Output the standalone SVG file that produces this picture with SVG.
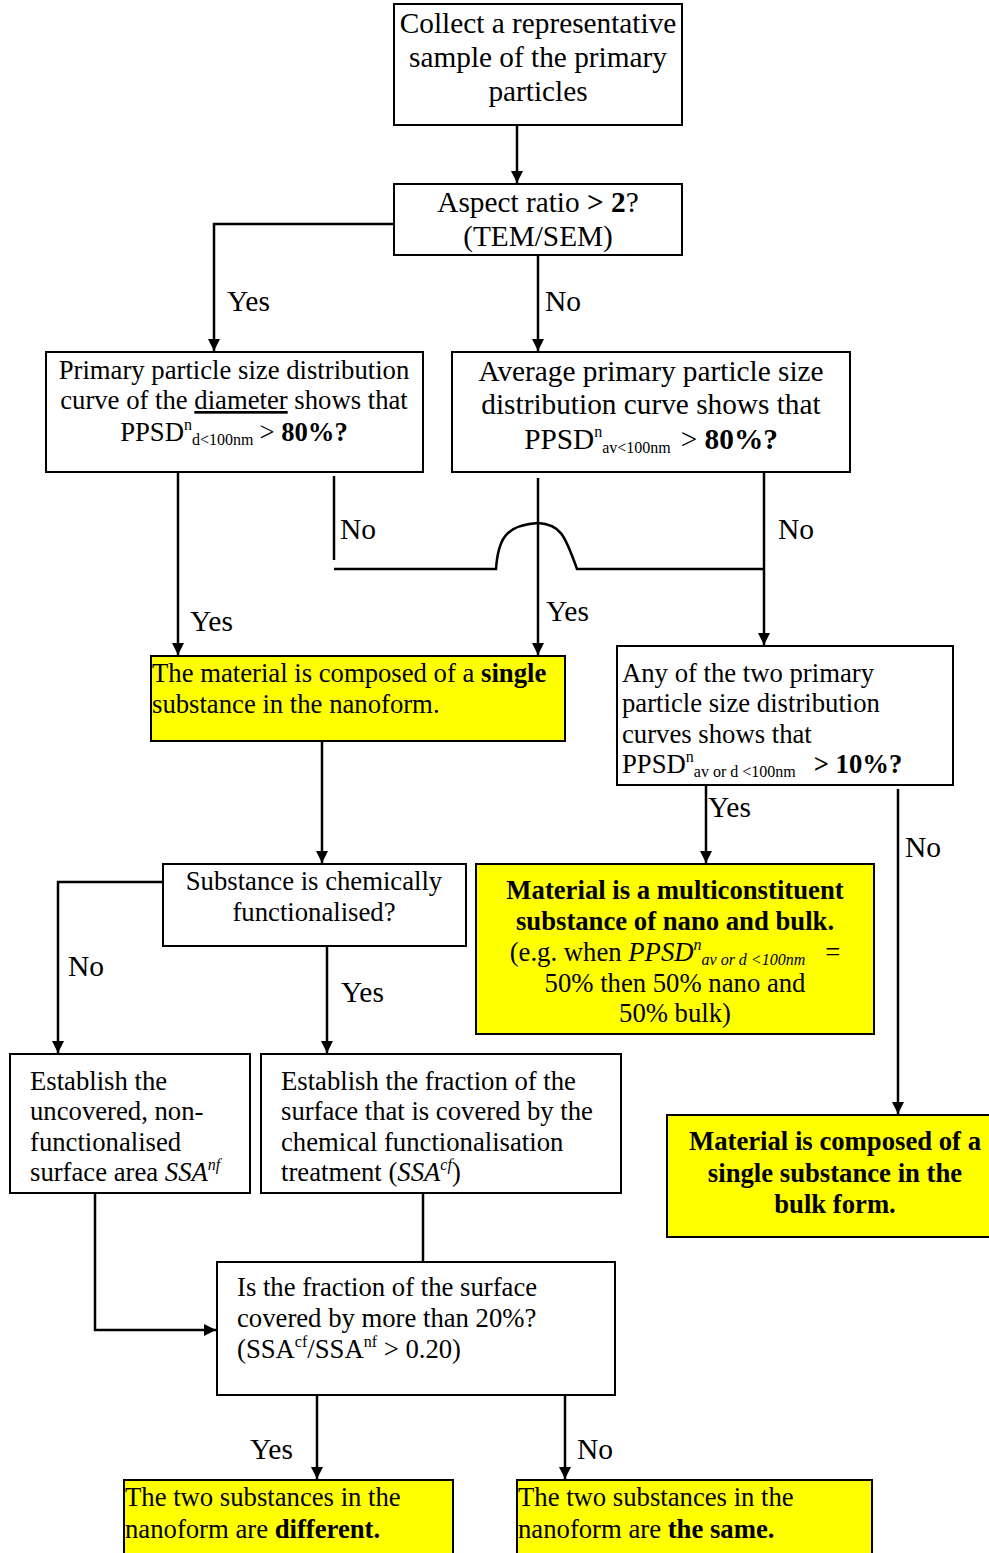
<svg xmlns="http://www.w3.org/2000/svg" width="989" height="1553" viewBox="0 0 989 1553">
<style>
text{font-family:"Liberation Serif","Times New Roman",serif;font-size:26.7px;fill:#000}
.L{font-size:29.3px}
.lab{font-size:29.5px}
.c{text-anchor:middle}
.b{font-weight:bold}
.s{font-size:16px}
.box{fill:#fff;stroke:#000;stroke-width:2}
.yel{fill:#ffff00;stroke:#000;stroke-width:2}
.ln{fill:none;stroke:#000;stroke-width:2.5}
</style>
<defs>
<marker id="ah" markerWidth="14" markerHeight="14" refX="12" refY="6" orient="auto" markerUnits="userSpaceOnUse">
<path d="M0,0 L12,6 L0,12 Z" fill="#000"/>
</marker>
</defs>
<g id="connectors">
<path class="ln" d="M517 125 V183" marker-end="url(#ah)"/>
<path class="ln" d="M394 224 H214 V351" marker-end="url(#ah)"/>
<path class="ln" d="M538 255 V351" marker-end="url(#ah)"/>
<path class="ln" d="M178 472 V655" marker-end="url(#ah)"/>
<path class="ln" d="M334 476 V560"/>
<path class="ln" d="M334 569 H496 C498 540 505 525 538 523 C560 524 565 535 577 569 H764"/>
<path class="ln" d="M538 478 V655" marker-end="url(#ah)"/>
<path class="ln" d="M764 472 V645" marker-end="url(#ah)"/>
<path class="ln" d="M322 741 V863" marker-end="url(#ah)"/>
<path class="ln" d="M163 882 H58 V1053" marker-end="url(#ah)"/>
<path class="ln" d="M327 946 V1053" marker-end="url(#ah)"/>
<path class="ln" d="M706 785 V863" marker-end="url(#ah)"/>
<path class="ln" d="M898 789 V1114" marker-end="url(#ah)"/>
<path class="ln" d="M95 1193 V1330 H216" marker-end="url(#ah)"/>
<path class="ln" d="M423 1193 V1262"/>
<path class="ln" d="M317 1395 V1479" marker-end="url(#ah)"/>
<path class="ln" d="M565 1395 V1479" marker-end="url(#ah)"/>
<text class="lab" x="227" y="311">Yes</text>
<text class="lab" x="545" y="311">No</text>
<text class="lab" x="340" y="539">No</text>
<text class="lab" x="778" y="539">No</text>
<text class="lab" x="190" y="631">Yes</text>
<text class="lab" x="546" y="621">Yes</text>
<text class="lab" x="708" y="817">Yes</text>
<text class="lab" x="905" y="857">No</text>
<text class="lab" x="68" y="976">No</text>
<text class="lab" x="341" y="1002">Yes</text>
<text class="lab" x="250" y="1459">Yes</text>
<text class="lab" x="577" y="1459">No</text>
</g>
<g id="n1">
<rect class="box" x="394" y="4" width="288" height="121"/>
<text class="c L" x="538" y="33">Collect a representative</text>
<text class="c L" x="538" y="67">sample of the primary</text>
<text class="c L" x="538" y="101">particles</text>
</g>
<g id="n2">
<rect class="box" x="394" y="184" width="288" height="71"/>
<text class="c L" x="538" y="212">Aspect ratio <tspan class="b">&gt; 2</tspan>?</text>
<text class="c L" x="538" y="246">(TEM/SEM)</text>
</g>
<g id="n3">
<rect class="box" x="46" y="352" width="377" height="120"/>
<text class="c" x="234" y="379">Primary particle size distribution</text>
<text class="c" x="234" y="409">curve of the <tspan text-decoration="underline">diameter</tspan> shows that</text>
<text class="c" x="234" y="441">PPSD<tspan class="s" dy="-11">n</tspan><tspan class="s" dy="15">d&lt;100nm</tspan><tspan dy="-4" dx="6">&gt; </tspan><tspan class="b">80%?</tspan></text>
</g>
<g id="n4">
<rect class="box" x="452" y="352" width="398" height="120"/>
<text class="c L" x="651" y="381">Average primary particle size</text>
<text class="c L" x="651" y="414">distribution curve shows that</text>
<text class="c L" x="651" y="449">PPSD<tspan class="s" dy="-12">n</tspan><tspan class="s" dy="16">av&lt;100nm</tspan><tspan dy="-4" dx="10">&gt; </tspan><tspan class="b">80%?</tspan></text>
</g>
<g id="n5">
<rect class="yel" x="151" y="656" width="414" height="85"/>
<text x="152" y="682">The material is composed of a <tspan class="b">single</tspan></text>
<text x="152" y="713">substance in the nanoform.</text>
</g>
<g id="n6">
<rect class="box" x="617" y="646" width="336" height="139"/>
<text x="622" y="682">Any of the two primary</text>
<text x="622" y="712">particle size distribution</text>
<text x="622" y="743">curves shows that</text>
<text x="622" y="773">PPSD<tspan class="s" dy="-11">n</tspan><tspan class="s" dy="15">av or d &lt;100nm</tspan><tspan dy="-4" dx="18" class="b">&gt; 10%?</tspan></text>
</g>
<g id="n7">
<rect class="box" x="163" y="864" width="303" height="82"/>
<text class="c" x="314" y="890">Substance is chemically</text>
<text class="c" x="314" y="921">functionalised?</text>
</g>
<g id="n8">
<rect class="yel" x="476" y="864" width="398" height="170"/>
<text class="c b" x="675" y="899">Material is a multiconstituent</text>
<text class="c b" x="675" y="930">substance of nano and bulk.</text>
<text class="c" x="675" y="961">(e.g. when <tspan font-style="italic">PPSD</tspan><tspan class="s" font-style="italic" dy="-11">n</tspan><tspan class="s" font-style="italic" dy="15">av or d &lt;100nm</tspan><tspan dy="-4" dx="20">=</tspan></text>
<text class="c" x="675" y="992">50% then 50% nano and</text>
<text class="c" x="675" y="1022">50% bulk)</text>
</g>
<g id="n9">
<rect class="yel" x="667" y="1115" width="330" height="122"/>
<text class="c b" x="835" y="1150">Material is composed of a</text>
<text class="c b" x="835" y="1182">single substance in the</text>
<text class="c b" x="835" y="1213">bulk form.</text>
</g>
<g id="n10">
<rect class="box" x="10" y="1054" width="240" height="139"/>
<text x="30" y="1090">Establish the</text>
<text x="30" y="1120">uncovered, non-</text>
<text x="30" y="1151">functionalised</text>
<text x="30" y="1181">surface area <tspan font-style="italic">SSA</tspan><tspan class="s" font-style="italic" dy="-11">nf</tspan></text>
</g>
<g id="n11">
<rect class="box" x="261" y="1054" width="360" height="139"/>
<text x="281" y="1090">Establish the fraction of the</text>
<text x="281" y="1120">surface that is covered by the</text>
<text x="281" y="1151">chemical functionalisation</text>
<text x="281" y="1181">treatment (<tspan font-style="italic">SSA</tspan><tspan class="s" font-style="italic" dy="-11">cf</tspan><tspan dy="11">)</tspan></text>
</g>
<g id="n12">
<rect class="box" x="217" y="1262" width="398" height="133"/>
<text x="237" y="1296">Is the fraction of the surface</text>
<text x="237" y="1327">covered by more than 20%?</text>
<text x="237" y="1358">(SSA<tspan class="s" dy="-11">cf</tspan><tspan dy="11">/SSA</tspan><tspan class="s" dy="-11">nf</tspan><tspan dy="11"> &gt; 0.20)</tspan></text>
</g>
<g id="n13">
<rect class="yel" x="124" y="1480" width="329" height="80"/>
<text x="125" y="1506">The two substances in the</text>
<text x="125" y="1538">nanoform are <tspan class="b">different.</tspan></text>
</g>
<g id="n14">
<rect class="yel" x="517" y="1480" width="355" height="80"/>
<text x="518" y="1506">The two substances in the</text>
<text x="518" y="1538">nanoform are <tspan class="b">the same.</tspan></text>
</g>
</svg>
